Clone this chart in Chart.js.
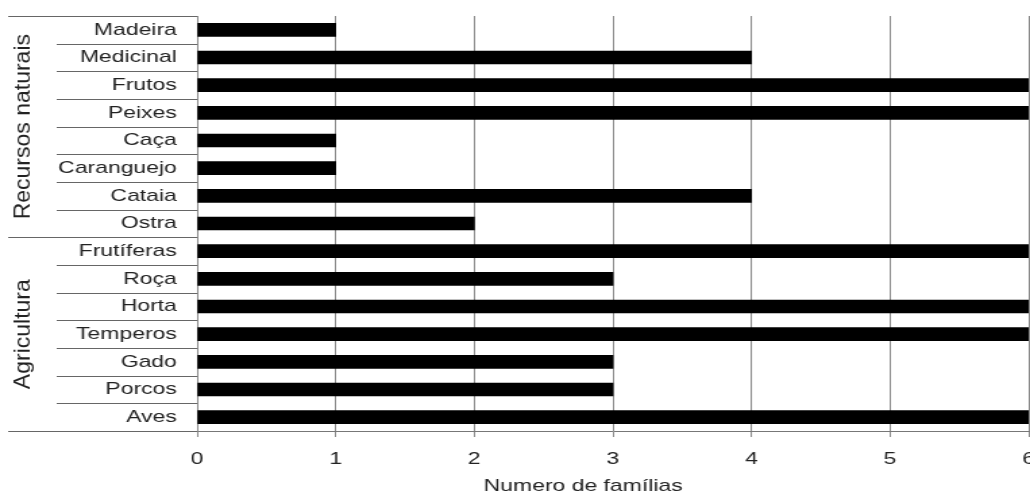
<!DOCTYPE html>
<html>
<head>
<meta charset="utf-8">
<script src="https://cdn.jsdelivr.net/npm/chart.js@4/dist/chart.umd.min.js"></script>
<style>
  body { margin: 0; background: #fff; overflow: hidden; }
  #myChart { display: block; }
</style>
</head>
<body>
<!-- drawn narrow, shown stretched to match the wide lettering of the original -->
<canvas id="myChart" width="763" height="500" style="width: 1030px; height: 500px;"></canvas>
<script>
const categories = ['Madeira', 'Medicinal', 'Frutos', 'Peixes', 'Caça', 'Caranguejo', 'Cataia', 'Ostra',
    'Frutíferas', 'Roça', 'Horta', 'Temperos', 'Gado', 'Porcos', 'Aves'];
const familias = [1, 4, 6, 6, 1, 1, 4, 2, 6, 3, 6, 6, 3, 3, 6];
const groups = ['Recursos naturais', 'Agricultura'];
const groupSizes = [8, 7];
const xTicks = [0, 1, 2, 3, 4, 5, 6];
const axisTitle = 'Numero de famílias';

const stretch = 1030 / 763;
const fontFamily = '"Liberation Sans", Arial, sans-serif';

Chart.defaults.font.family = fontFamily;
Chart.defaults.color = '#222';

// separators, rotated group names and the axis title
const groupLabels = {
    id: 'groupLabels',
    afterDraw(chart) {
        const ctx = chart.ctx;
        const area = chart.chartArea;
        const y = chart.scales.y;
        const step = y.getPixelForValue(1) - y.getPixelForValue(0);
        ctx.save();
        ctx.strokeStyle = '#666';
        ctx.lineWidth = 1;
        let start = 0;
        groups.forEach((g, gi) => {
            const top = y.getPixelForValue(start) - step / 2;
            const bottom = y.getPixelForValue(start + groupSizes[gi] - 1) + step / 2;
            ctx.beginPath();
            ctx.moveTo(6, Math.round(top) + 0.5);
            ctx.lineTo(area.left, Math.round(top) + 0.5);
            ctx.stroke();
            for (let i = start + 1; i < start + groupSizes[gi]; i++) {
                const py = Math.round(y.getPixelForValue(i) - step / 2) + 0.5;
                ctx.beginPath();
                ctx.moveTo(42, py);
                ctx.lineTo(area.left, py);
                ctx.stroke();
            }
            ctx.save();
            ctx.translate(17.5, (top + bottom) / 2);
            ctx.scale(1 / stretch, 1);
            ctx.rotate(-Math.PI / 2);
            ctx.fillStyle = '#222';
            ctx.font = '23px ' + fontFamily;
            ctx.textAlign = 'center';
            ctx.textBaseline = 'middle';
            ctx.fillText(g, 0, 0);
            ctx.restore();
            start += groupSizes[gi];
        });
        ctx.beginPath();
        ctx.moveTo(6, Math.round(area.bottom) + 0.5);
        ctx.lineTo(area.left, Math.round(area.bottom) + 0.5);
        ctx.stroke();

        ctx.fillStyle = '#222';
        ctx.font = '17px ' + fontFamily;
        ctx.textAlign = 'center';
        ctx.textBaseline = 'middle';
        ctx.fillText(axisTitle, 432, 486);
        ctx.restore();
    }
};

const config = {
    type: 'bar',
    data: {
        labels: categories,
        datasets: [
            {
                label: axisTitle,
                data: familias,
                backgroundColor: '#000',
                borderWidth: 0,
                barThickness: 13,
            },
        ],
    },
    options: {
        indexAxis: 'y',
        responsive: false,
        animation: false,
        layout: { padding: { top: 16, right: 1, left: 0, bottom: 0 } },
        plugins: {
            legend: { display: false },
            tooltip: { enabled: false },
        },
        scales: {
            x: {
                min: 0,
                max: 6,
                afterBuildTicks: (scale) => {
                    scale.ticks = xTicks.map(v => ({ value: v }));
                },
                afterFit: (scale) => {
                    scale.paddingLeft = 0;
                    scale.paddingRight = 0;
                    scale.height = 69;
                },
                grid: {
                    color: '#8a8a8a',
                    lineWidth: 1,
                    drawTicks: true,
                    tickLength: 6,
                },
                border: { color: '#777', width: 1 },
                ticks: {
                    font: { size: 17 },
                    padding: 12,
                    maxRotation: 0,
                },
            },
            y: {
                afterFit: (scale) => {
                    scale.width = 146;
                    scale.paddingTop = 0;
                    scale.paddingBottom = 0;
                },
                grid: { display: false, drawTicks: false },
                border: { color: '#888', width: 1 },
                ticks: {
                    font: { size: 17 },
                    padding: 15,
                    autoSkip: false,
                },
            },
        },
    },
    plugins: [groupLabels],
};
const myChart = new Chart(document.getElementById('myChart'), config);
</script>
</body>
</html>
